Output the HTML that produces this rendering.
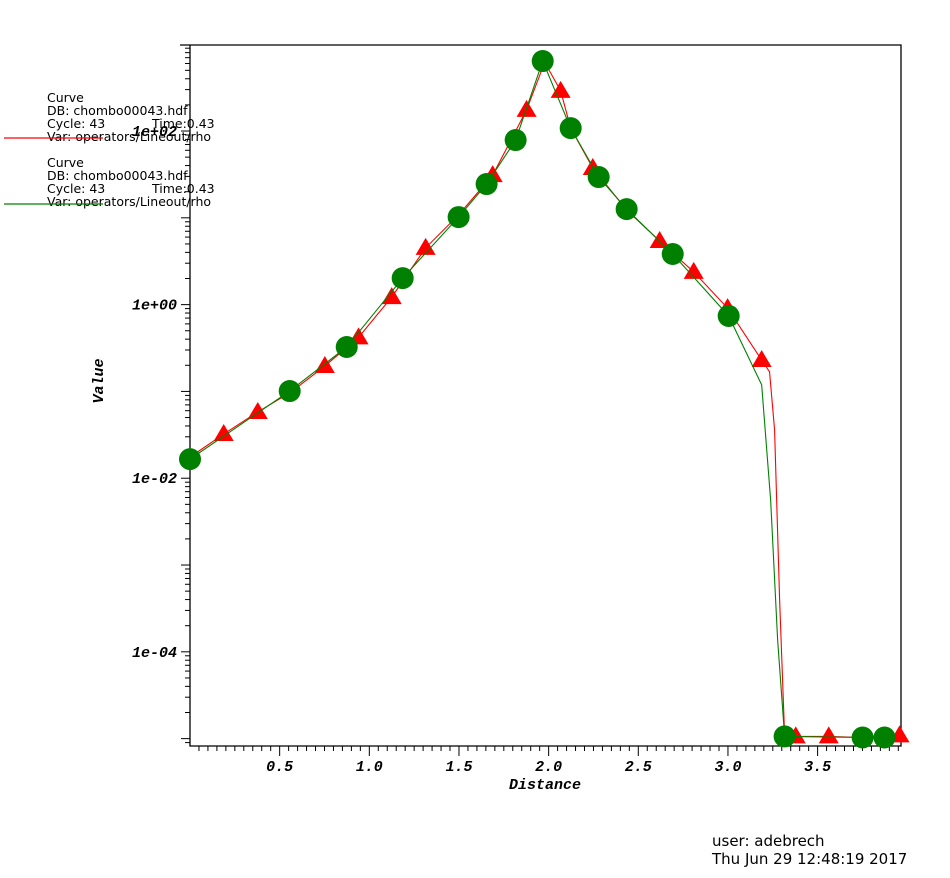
<!DOCTYPE html>
<html><head><meta charset="utf-8"><style>
html,body{margin:0;padding:0;background:#fff;}
svg{display:block;}
.lg{font-family:"DejaVu Sans","Liberation Sans",sans-serif;font-size:12.5px;fill:#000;}
.tk{font-family:"Liberation Mono",monospace;font-weight:bold;font-style:italic;font-size:15px;fill:#000;}
</style></head><body>
<svg id="chart" width="950" height="878" viewBox="0 0 950 878" xmlns="http://www.w3.org/2000/svg">
<g id="axes"></g>
<g id="series"></g>
<g>
<text class="lg" x="47" y="102">Curve</text>
<text class="lg" x="47" y="115">DB: chombo00043.hdf</text>
<text class="lg" x="47" y="128">Cycle: 43</text>
<text class="lg" x="152" y="128">Time:0.43</text>
<text class="lg" x="47" y="141">Var: operators/Lineout/rho</text>
<line x1="4" y1="138" x2="103" y2="138" stroke="#ff0000" stroke-width="1.2"/>
<text class="lg" x="47" y="167">Curve</text>
<text class="lg" x="47" y="180">DB: chombo00043.hdf</text>
<text class="lg" x="47" y="193">Cycle: 43</text>
<text class="lg" x="152" y="193">Time:0.43</text>
<text class="lg" x="47" y="206">Var: operators/Lineout/rho</text>
<line x1="4" y1="204" x2="103" y2="204" stroke="#008000" stroke-width="1.2"/>
</g>
<text x="117" y="395" transform="rotate(-90 103 395)" class="tk" text-anchor="middle">Value</text>
<text x="545" y="789" class="tk" text-anchor="middle">Distance</text>
<text x="712" y="846" style="font-family:'DejaVu Sans','Liberation Sans',sans-serif;font-size:15px">user: adebrech</text>
<text x="712" y="864" style="font-family:'DejaVu Sans','Liberation Sans',sans-serif;font-size:15px">Thu Jun 29 12:48:19 2017</text>
</svg>
<script>
const xTicks=[0.5,1.0,1.5,2.0,2.5,3.0,3.5];
const xTickLabels=["0.5","1.0","1.5","2.0","2.5","3.0","3.5"];
const yLabelDecades=[2,0,-2,-4];
const yTickLabels=["1e+02","1e+00","1e-02","1e-04"];
const redX=[0.0,0.188,0.378,0.562,0.752,0.940,1.125,1.314,1.498,1.688,1.877,1.978,2.067,2.123,2.246,2.435,2.619,2.809,2.998,3.188,3.232,3.260,3.288,3.316,3.378,3.562,3.751,3.957];
const redY=[0.0175,0.0323,0.058,0.098,0.196,0.42,1.22,4.5,10.8,31,175,620,290,108,37.5,12.3,5.4,2.38,0.91,0.23,0.168,0.036,4.0e-4,1.09e-5,1.06e-5,1.06e-5,1.03e-5,1.09e-5];
const redMark=[0,1,1,0,1,1,1,1,0,1,1,0,1,0,1,0,1,1,1,1,0,0,0,0,1,1,0,1];
const greenX=[0.0,0.556,0.874,1.186,1.498,1.654,1.816,1.967,2.123,2.279,2.435,2.692,3.004,3.188,3.238,3.277,3.316,3.751,3.873,3.957];
const greenY=[0.0166,0.101,0.325,2.02,10.2,24.5,78.7,640,108,29.5,12.6,3.83,0.74,0.119,0.0056,1.37e-4,1.06e-5,1.03e-5,1.03e-5,1.03e-5];
const greenMark=[1,1,1,1,1,1,1,1,1,1,1,1,1,0,0,0,1,1,1,0];

const L=190,R=901,T=45,B=746;
const xMin=0,xMax=3.965,lMin=-5.085,lMax=2.991;
const NS="http://www.w3.org/2000/svg";
function sx(v){return L+(v-xMin)/(xMax-xMin)*(R-L);}
function sy(v){return B-(Math.log10(v)-lMin)/(lMax-lMin)*(B-T);}
function mk(tag,attrs,parent){const e=document.createElementNS(NS,tag);for(const k in attrs)e.setAttribute(k,attrs[k]);parent.appendChild(e);return e;}
const ax=document.getElementById('axes');
let f=mk('path',{d:`M180 ${T}H${R}V${B}H${L}V${T}`,fill:'none',stroke:'#000','stroke-width':1.3},ax);


for(let i=1;i*0.05<=xMax;i++){const v=i*0.05;const maj=Math.abs(v*2-Math.round(v*2))<1e-6;
 const t=mk('line',{x1:sx(v),x2:sx(v),y1:B,y2:B+(maj?10:5),stroke:'#000'},ax);
 
 }
xTicks.forEach((v,i)=>{const t=mk('text',{x:sx(v),y:771,class:'tk','text-anchor':'middle'},ax);t.textContent=xTickLabels[i];
 
 });
for(let d=-6;d<=3;d++){for(let m=1;m<=9;m++){const v=m*Math.pow(10,d);const y=sy(v);if(y<T-0.5||y>B+0.5)continue;
 const t=mk('line',{x1:L-(m===1?9:5),x2:L,y1:y,y2:y,stroke:'#000'},ax);
 
 }}
yLabelDecades.forEach((d,i)=>{const t=mk('text',{x:177,y:sy(Math.pow(10,d))+5,class:'tk','text-anchor':'end'},ax);t.textContent=yTickLabels[i];
 
 });
const sg=document.getElementById('series');
function draw(xs,ys,marks,color,kind){
 const p=mk('polyline',{points:xs.map((x,i)=>sx(x)+','+sy(ys[i])).join(' '),fill:'none',stroke:color,'stroke-width':1.1},sg);
 
 
 xs.forEach((x,i)=>{if(!marks[i])return;const cx=sx(x),cy=sy(ys[i]);let m;
  if(kind==='red'){m=mk('polygon',{points:`${cx},${cy-10} ${cx-10},${cy+7} ${cx+10},${cy+7}`,fill:color},sg);}
  else{m=mk('circle',{cx:cx,cy:cy,r:11,fill:color},sg);}
  
  });
}
draw(redX,redY,redMark,'#ff0000','red');
draw(greenX,greenY,greenMark,'#008000','green');
</script>
</body></html>
